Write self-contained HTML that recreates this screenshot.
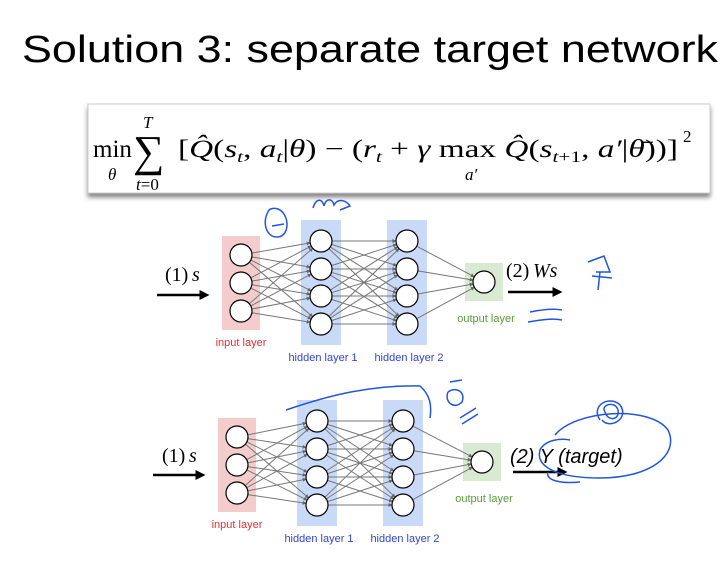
<!DOCTYPE html>
<html><head><meta charset="utf-8"><style>
body{margin:0;background:#fff}
svg{display:block}
</style></head><body>
<svg id="s" width="723" height="561" xmlns="http://www.w3.org/2000/svg">
<defs>
<marker id="ah" markerWidth="4" markerHeight="4" refX="3.5" refY="2" orient="auto" markerUnits="userSpaceOnUse"><path d="M0,0 L4,2 L0,4z" fill="#666"/></marker>
<marker id="bh" markerWidth="4" markerHeight="4" refX="3" refY="2" orient="auto"><path d="M0,0 L4,2 L0,4z" fill="#000"/></marker>
<filter id="sh" x="-5%" y="-10%" width="110%" height="130%"><feDropShadow dx="0" dy="4" stdDeviation="2.5" flood-color="#555" flood-opacity="0.7"/></filter>
</defs>
<text x="22" y="62" font-family="Liberation Sans, sans-serif" font-size="38" textLength="696" lengthAdjust="spacingAndGlyphs">Solution 3: separate target network</text>
<rect x="88" y="104" width="622" height="89" fill="#fff" stroke="#ccc" filter="url(#sh)"/>
<g font-family="Liberation Serif, serif" fill="#000">
<text x="93" y="157" font-size="25">min</text>
<text x="108" y="180" font-size="17" font-style="italic">θ</text>
<text x="143" y="128" font-size="17" font-style="italic">T</text>
<text x="133" y="166" font-size="44">∑</text>
<text x="136" y="190" font-size="17"><tspan font-style="italic">t</tspan>=0</text>
<text x="178" y="157" font-size="25" textLength="500" lengthAdjust="spacingAndGlyphs">[<tspan font-style="italic">Q̂</tspan>(<tspan font-style="italic">s</tspan><tspan font-size="16" font-style="italic" dy="5">t</tspan><tspan dy="-5">, </tspan><tspan font-style="italic">a</tspan><tspan font-size="16" font-style="italic" dy="5">t</tspan><tspan dy="-5">|</tspan><tspan font-style="italic">θ</tspan>) − (<tspan font-style="italic">r</tspan><tspan font-size="16" font-style="italic" dy="5">t</tspan><tspan dy="-5"> + </tspan><tspan font-style="italic">γ</tspan> max <tspan font-style="italic">Q̂</tspan>(<tspan font-style="italic">s</tspan><tspan font-size="16" dy="5"><tspan font-style="italic">t</tspan>+1</tspan><tspan dy="-5">, </tspan><tspan font-style="italic">a′</tspan>|<tspan font-style="italic">θ̄</tspan>))]</text>
<text x="683" y="142" font-size="17">2</text>
<text x="465" y="180" font-size="17" font-style="italic">a′</text>
</g>
<g id="nets"></g>
<g fill="none" stroke="#2255dd" stroke-width="1.5">
<path d="M268 212 C262 222 266 238 278 237 C290 236 290 214 278 209 C272 207 268 210 268 212 M272 226 L284 224"/>
<path d="M313 208 C316 198 322 198 324 206 C326 198 332 198 334 205 C338 198 346 200 350 206 L340 210"/>
<path d="M588 262 L604 256 L610 272 L596 272 M600 272 L598 290 M592 276 L612 278"/>
<path d="M530 312 C540 310 552 308 562 310 M528 322 C540 320 552 318 562 320"/>
<path d="M286 410 C330 395 370 385 420 386 C430 395 432 405 430 418"/>
<path d="M450 382 L462 380 M448 392 C444 402 454 410 462 402 C466 392 456 386 448 392"/>
<path d="M460 418 L476 408 M462 424 L478 414"/>
<path d="M555 435 C575 410 650 405 668 430 C680 455 650 478 600 478 C560 478 535 468 540 450 C545 440 560 438 570 440 M548 472 C545 480 560 484 580 482"/>
<path d="M600 420 C590 405 610 395 620 405 C630 418 610 430 602 420 M605 412 C600 405 615 400 618 410 C620 420 608 422 605 412"/>
</g>
<script>
var g=document.getElementById('nets'),NS='http://www.w3.org/2000/svg';
function el(t,a,txt){var e=document.createElementNS(NS,t);for(var k in a)e.setAttribute(k,a[k]);if(txt)e.textContent=txt;g.appendChild(e);return e;}
function net(o){
 el('rect',{x:o.ix-19,y:o.i[0]-19,width:38,height:o.i[2]-o.i[0]+38,fill:'#f4cccc'});
 el('rect',{x:o.h1-20,y:o.h[0]-21,width:40,height:o.h[3]-o.h[0]+42,fill:'#c9daf8'});
 el('rect',{x:o.h2-20,y:o.h[0]-21,width:40,height:o.h[3]-o.h[0]+42,fill:'#c9daf8'});
 el('rect',{x:o.ox-19,y:o.oy-19,width:38,height:38,fill:'#d9ead3'});
 var r=11;
 function ln(x1,y1,x2,y2){var dx=x2-x1,dy=y2-y1,d=Math.sqrt(dx*dx+dy*dy);el('line',{x1:x1+dx/d*r,y1:y1+dy/d*r,x2:x2-dx/d*r,y2:y2-dy/d*r,stroke:'#777','stroke-width':1,'marker-end':'url(#ah)'});}
 o.i.forEach(function(a){o.h.forEach(function(b){ln(o.ix,a,o.h1,b);});});
 o.h.forEach(function(a){o.h.forEach(function(b){ln(o.h1,a,o.h2,b);});});
 o.h.forEach(function(a){ln(o.h2,a,o.ox,o.oy);});
 o.i.forEach(function(y){el('circle',{cx:o.ix,cy:y,r:r,fill:'#fff',stroke:'#000','stroke-width':1.2});});
 o.h.forEach(function(y){el('circle',{cx:o.h1,cy:y,r:r,fill:'#fff',stroke:'#000','stroke-width':1.2});el('circle',{cx:o.h2,cy:y,r:r,fill:'#fff',stroke:'#000','stroke-width':1.2});});
 el('circle',{cx:o.ox,cy:o.oy,r:r,fill:'#fff',stroke:'#000','stroke-width':1.2});
 var f='Liberation Sans, sans-serif';
 el('text',{x:o.ix,y:o.i[2]+35,'font-family':f,'font-size':11,fill:'#e03030','text-anchor':'middle'},'input layer');
 el('text',{x:o.h1+2,y:o.h[3]+37,'font-family':f,'font-size':11,fill:'#3344cc','text-anchor':'middle'},'hidden layer 1');
 el('text',{x:o.h2+2,y:o.h[3]+37,'font-family':f,'font-size':11,fill:'#3344cc','text-anchor':'middle'},'hidden layer 2');
 el('text',{x:o.ox+2,y:o.oy+40,'font-family':f,'font-size':11,fill:'#5a9a3a','text-anchor':'middle'},'output layer');
 el('text',{x:o.sx,y:o.sy,'font-family':'Liberation Serif, serif','font-size':20},'(1)');
 el('text',{x:o.sx+27,y:o.sy,'font-family':'Liberation Serif, serif','font-size':20,'font-style':'italic'},'s');
 el('line',{x1:o.ax,y1:o.ay,x2:o.ax+50,y2:o.ay,stroke:'#000','stroke-width':2.5,'marker-end':'url(#bh)'});
 el('line',{x1:o.bx,y1:o.by,x2:o.bx+52,y2:o.by,stroke:'#000','stroke-width':2.5,'marker-end':'url(#bh)'});
}
net({ix:241,i:[255,283,311],h1:321,h2:407,h:[241,269,296,324],ox:484,oy:282,sx:165,sy:281,ax:157,ay:295,bx:508,by:292});
net({ix:237,i:[437,465,493],h1:317,h2:403,h:[421,449,477,505],ox:482,oy:462,sx:162,sy:462,ax:153,ay:475,bx:513,by:472});
var f='Liberation Serif, serif';
el('text',{x:506,y:277,'font-family':f,'font-size':20},'(2)');
el('text',{x:533,y:277,'font-family':f,'font-size':20,'font-style':'italic'},'Ws');
el('text',{x:510,y:463,'font-family':'Liberation Sans, sans-serif','font-size':20,'font-style':'italic'},'(2) Y (target)');
</script>
</svg>
</body></html>
